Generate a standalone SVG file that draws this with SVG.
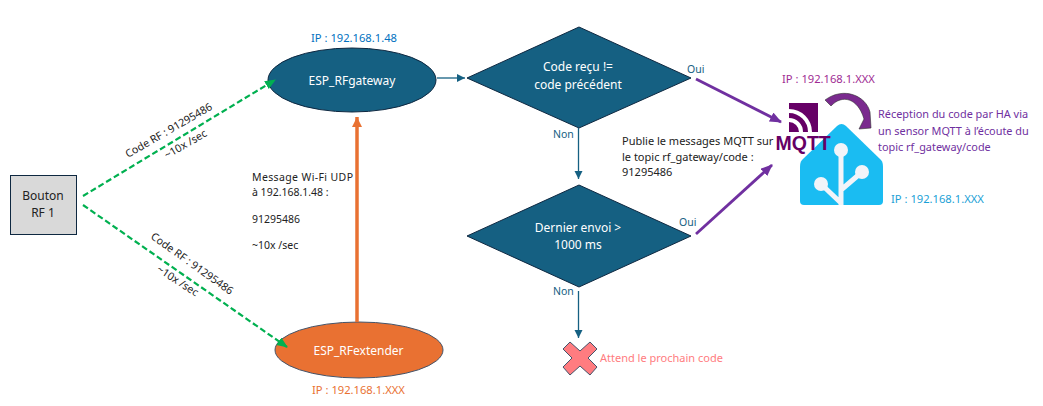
<svg xmlns="http://www.w3.org/2000/svg" width="1043" height="406" viewBox="0 0 1043 406">
<style>
text{font-family:"Noto Sans","Liberation Sans",sans-serif;font-size:10.500px;fill:#222}
.c{text-anchor:middle}
.n{font-size:12px}
.w{fill:#fff}
.i{font-size:11.200px}
.m{font-size:10.900px}
.s{font-size:11px}
.r{font-size:10.700px}
.q{fill:#156082}
.shape{fill:#156082;stroke:#0e2841;stroke-width:1}
.g{stroke:#00b050;stroke-width:2.2;stroke-dasharray:6 3;fill:none}
.p{stroke:#7030a0;stroke-width:2.800;fill:none}
.b{stroke:#156082;stroke-width:1.300;fill:none}
.gap{stroke:#fff;stroke-width:4;fill:none}
</style>
<defs>
<marker id="ag" markerUnits="userSpaceOnUse" markerWidth="12" markerHeight="10" refX="10" refY="4.500" orient="auto"><path d="M0 0L11 4.500L0 9z" fill="#00b050"/></marker>
<marker id="ap" markerUnits="userSpaceOnUse" markerWidth="13" markerHeight="11" refX="11" refY="5" orient="auto"><path d="M0 0L12 5L0 10z" fill="#7030a0"/></marker>
<marker id="ab" markerUnits="userSpaceOnUse" markerWidth="10" markerHeight="9" refX="8" refY="4" orient="auto"><path d="M0 0L8 4L0 8z" fill="#156082"/></marker>
<marker id="ao" markerUnits="userSpaceOnUse" markerWidth="13" markerHeight="11" refX="10" refY="5" orient="auto"><path d="M0 0L10 5L0 10z" fill="#e97132"/></marker>
</defs>
<g id="bouton"><rect x="10.500" y="175.500" width="66" height="59" fill="#d9d9d9" stroke="#0e2841" stroke-width="1"/><text class="c n" x="43" y="200">Bouton</text><text class="c n" x="43" y="217">RF 1</text></g>
<g id="gateway"><ellipse class="shape" cx="352" cy="80" rx="84" ry="32"/><text class="c w n" x="352" y="85">ESP_RFgateway</text><text class="i" x="311" y="42" style="fill:#0070c0">IP : 192.168.1.48</text></g>
<g id="extender"><ellipse cx="359" cy="350" rx="84" ry="28" fill="#e97132" stroke="#44546a"/><text class="c n w" x="358.500" y="355">ESP_RFextender</text><text class="i" x="312" y="394" style="fill:#e97132">IP : 192.168.1.XXX</text></g>
<g id="d1"><polygon class="shape" points="579,27 691,78 579,128 467,78"/><text class="c w n" x="578" y="71">Code reçu !=</text><text class="c w n" x="578" y="89">code précédent</text></g>
<g id="d2"><polygon class="shape" points="579,185 691,236 579,287 467,236"/><text class="c w n" x="578" y="232">Dernier envoi &gt;</text><text class="c w n" x="578" y="249">1000 ms</text></g>
<g id="stop"><polygon points="570,342 580,351 590,342 597,349 588,358 597,367 590,375 580,366 570,375 563,367 572,358 563,349" fill="#ff7c80" stroke="#44546a"/><text class="s" x="600" y="362" style="fill:#ff7c80">Attend le prochain code</text></g>
<g id="ha">
<path d="M837 126Q841.500 122 846 126L881 160Q883 162 883 167V201Q883 205 879 205H804Q800 205 800 201V167Q800 162 802 160Z" fill="#1abcf2"/>
<path d="M841 150V205M841 190L862 172M841 203L821 184" stroke="#f2f4f9" stroke-width="5" fill="none"/>
<circle cx="841" cy="150" r="7" fill="#f2f4f9"/><circle cx="862" cy="172" r="7" fill="#f2f4f9"/><circle cx="821" cy="184" r="7" fill="#f2f4f9"/>
</g>
<g id="mqtt">
<rect x="789" y="103" width="29" height="29" fill="#660066"/>
<path class="gap" d="M789 120A12 12 0 0 1 801 132"/>
<path class="gap" d="M789 111A21 21 0 0 1 810 132"/>
<text x="775.500" y="150" style="font-family:'Liberation Sans',sans-serif;font-weight:700;font-size:19.500px;fill:#660066">MQTT</text>
</g>
<path id="curve" d="M825 100L831 106C842 94 858 98 864 119L859 129L871 128L870 112C866 96 844 86 825 100Z" fill="#7a2a8e" stroke="#333" stroke-width="0.6"/>
<g id="connectors">
<path class="g" d="M83 196L275 80" marker-end="url(#ag)"/>
<path class="g" d="M83 205L287 347" marker-end="url(#ag)"/>
<path d="M357 322V117" stroke="#e97132" stroke-width="3.500" fill="none" marker-end="url(#ao)"/>
<path class="b" d="M437 78H465" marker-end="url(#ab)"/>
<path class="b" d="M578.500 128V179" marker-end="url(#ab)"/>
<path class="b" d="M578.500 291V338" marker-end="url(#ab)"/>
<path class="p" d="M696 79L781 122" marker-end="url(#ap)"/>
<path class="p" d="M696 234L772 165" marker-end="url(#ap)"/>
</g>
<g id="labels">
<text class="r" transform="translate(128 158) rotate(-30)">Code RF : 91295486</text>
<text class="r" transform="translate(167 159) rotate(-30)">~10x /sec</text>
<text class="r" transform="translate(150 238) rotate(35.500)">Code RF : 91295486</text>
<text class="r" transform="translate(156 271) rotate(33)">~10x /sec</text>
<text x="252" y="181" textLength="101">Message Wi-Fi UDP</text><text x="252" y="196">à 192.168.1.48 :</text>
<text x="252" y="223">91295486</text><text x="252" y="249">~10x /sec</text>
<text class="q" x="687" y="73">Oui</text><text class="q" x="553" y="138">Non</text>
<text class="q" x="679" y="226">Oui</text><text class="q" x="553" y="295">Non</text>
<text class="s" x="622" y="145">Publie le messages MQTT sur</text><text class="s" x="622" y="161">le topic rf_gateway/code :</text><text class="s" x="622" y="176">91295486</text>
<text class="i" x="782" y="83" style="fill:#a02b93">IP : 192.168.1.XXX</text>
<text class="i" x="891" y="203" style="fill:#1a9fd6">IP : 192.168.1.XXX</text>
<text class="m" x="878" y="118" style="fill:#7030a0">Réception du code par HA via</text>
<text class="m" x="878" y="135" style="fill:#7030a0">un sensor MQTT à l’écoute du</text>
<text class="m" x="878" y="151" style="fill:#7030a0">topic rf_gateway/code</text>
</g>
</svg>
